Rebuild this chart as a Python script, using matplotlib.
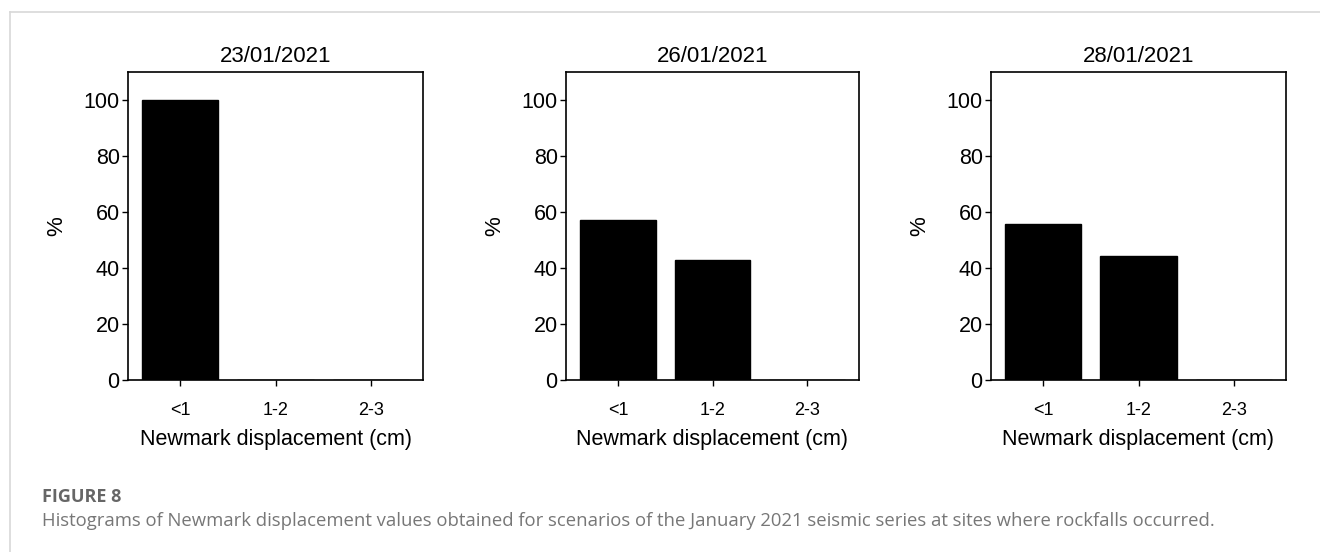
import matplotlib
matplotlib.use("Agg")
import matplotlib.pyplot as plt
from matplotlib.lines import Line2D

plt.rcParams["font.family"] = ["Liberation Sans", "DejaVu Sans"]

categories = ["<1", "1-2", "2-3"]
dates = ["23/01/2021", "26/01/2021", "28/01/2021"]
values_23 = [100.0, 0.0, 0.0]
values_26 = [57.1, 42.9, 0.0]
values_28 = [55.6, 44.4, 0.0]
series = [values_23, values_26, values_28]
yticks = [0, 20, 40, 60, 80, 100]

fig = plt.figure(figsize=(13.2, 5.52), dpi=100)
W, H = 1320, 552

# axes boxes in pixels: left, right
boxes = [(128, 423), (566, 859), (991, 1286)]
top, bottom = 72, 380

for (l, r), date, vals in zip(boxes, dates, series):
    ax = fig.add_axes([l / W, 1 - bottom / H, (r - l) / W, (bottom - top) / H])
    ax.bar(range(len(categories)), vals, width=0.8, color="black", edgecolor="black")
    ax.set_xlim(-0.55, 2.55)
    ax.set_ylim(0, 110)
    ax.set_yticks(yticks)
    ax.set_xticks(range(len(categories)))
    ax.set_xticklabels(categories)
    ax.tick_params(axis="both", direction="out", length=4, width=1)
    ax.tick_params(axis="y", pad=2, labelsize=15.5)
    ax.tick_params(axis="x", pad=12, labelsize=13)
    ax.set_title(date, fontsize=16, pad=7)
    ax.set_ylabel("%", fontsize=16, labelpad=12)
    ax.set_xlabel("Newmark displacement (cm)", fontsize=15.5, labelpad=7)
    for s in ax.spines.values():
        s.set_linewidth(1.2)

# page frame lines
fig.add_artist(Line2D([10 / W, 1], [1 - 12 / H, 1 - 12 / H], color="#d8d8d8", lw=1.2))
fig.add_artist(Line2D([10 / W, 10 / W], [0, 1 - 12 / H], color="#d8d8d8", lw=1.2))

fig.text(42 / W, 1 - 497 / H, "FIGURE 8", fontsize=13, color="#666666", weight="bold",
         family=["Open Sans", "DejaVu Sans"], va="center")
fig.text(42 / W, 1 - 521 / H,
         "Histograms of Newmark displacement values obtained for scenarios of the January 2021 "
         "seismic series at sites where rockfalls occurred.",
         fontsize=13.3, color="#777777", family=["Open Sans", "DejaVu Sans"], va="center")

fig.savefig("out.png", dpi=100)
